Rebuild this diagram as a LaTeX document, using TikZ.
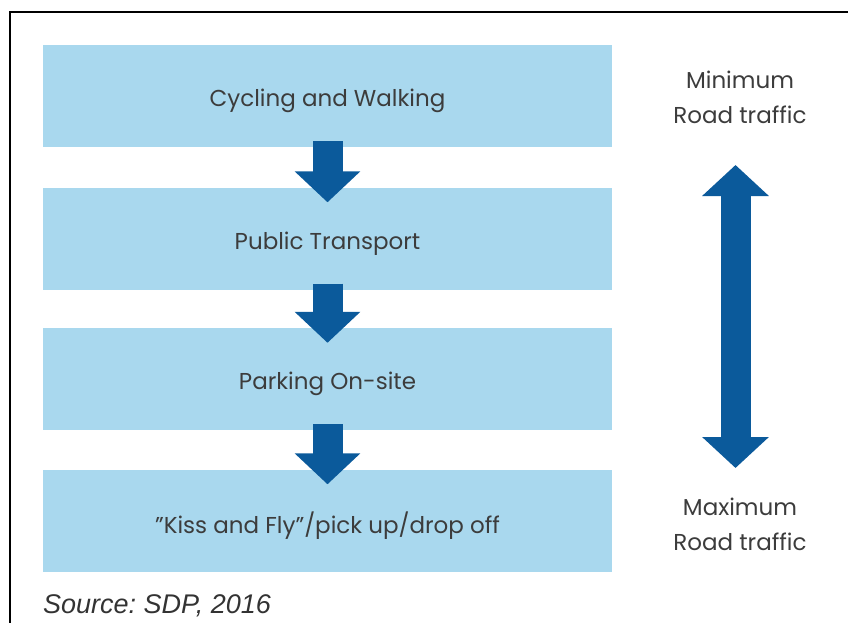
\documentclass[tikz,border=0pt]{standalone}
\usepackage{fontspec}
\setmainfont{Poppins}
\newfontfamily\srcfont{Liberation Sans}
\usetikzlibrary{arrows.meta}
\definecolor{boxblue}{HTML}{A9D8EE}
\definecolor{arrowblue}{HTML}{0B5A9B}
\definecolor{txtgray}{HTML}{3C3C3C}
\tikzset{
  stagebox/.style={fill=boxblue, draw=none, minimum width=569pt, minimum height=102pt,
    inner sep=0pt, text=txtgray},
  stagetext/.style={inner sep=0pt, text=txtgray, font=\fontsize{23}{26}\selectfont},
  blockarrow/.style={draw=arrowblue, line width=30pt, line cap=butt,
    -{Triangle[width=64pt,length=31pt]}},
  dblarrow/.style={draw=arrowblue, line width=30pt, line cap=butt,
    {Triangle[width=65pt,length=31pt]}-{Triangle[width=65pt,length=31pt]}},
  sidelabel/.style={align=center, inner sep=0pt, text=txtgray,
    font=\fontsize{23}{35}\selectfont},
}
\begin{document}
\frenchspacing
\begin{tikzpicture}[x=1pt,y=-1pt]
\useasboundingbox (0,0) rectangle (848,623);
\draw[line width=1.5pt, black] (10,623) -- (10,12) -- (848,12);
\node[stagebox] (b1) at (327.5,96) {};
\node[stagebox] (b2) at (327.5,238.5) {};
\node[stagebox] (b3) at (327.5,379) {};
\node[stagebox] (b4) at (327.5,520.5) {};
\node[stagetext] (t1) at ([yshift=-5pt]b1.center) {Cycling and Walking};
\node[stagetext] (t2) at ([yshift=-5pt]b2.center) {Public Transport};
\node[stagetext] (t3) at ([yshift=-5pt]b3.center) {Parking On-site};
\node[stagetext] (t4) at ([yshift=-5pt]b4.center) {\char"22 Kiss and Fly\char"22/pick up/drop off};
\draw[blockarrow] ([yshift=6pt]b1.south) -- ([yshift=-15pt]b2.north);
\draw[blockarrow] ([yshift=6pt]b2.south) -- ([yshift=-15pt]b3.north);
\draw[blockarrow] ([yshift=6pt]b3.south) -- ([yshift=-15pt]b4.north);
\coordinate (top) at (735.5,165);
\coordinate (bot) at (735.5,468);
\draw[dblarrow] (top) -- (bot);
\node[sidelabel] (minl) at (740,97) {Minimum\\Road traffic};
\node[sidelabel] (maxl) at (740,524) {Maximum\\Road traffic};
\node[anchor=base west, inner sep=0pt, text=black!80, font=\srcfont\itshape\fontsize{27}{30}\selectfont] (src) at (43,613) {Source: SDP, 2016};
\end{tikzpicture}
\end{document}
